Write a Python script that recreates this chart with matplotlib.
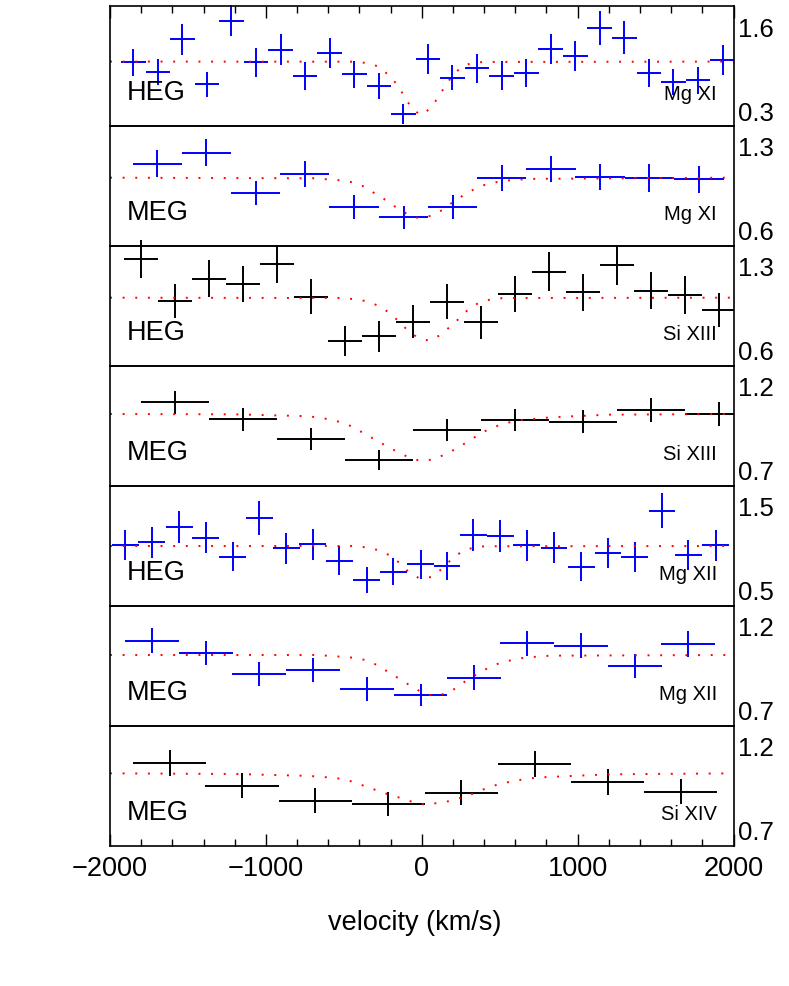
import matplotlib
matplotlib.use('Agg')
import matplotlib.pyplot as plt
from matplotlib.ticker import MultipleLocator
from matplotlib.patches import Rectangle

plt.rcParams['font.family'] = ['Liberation Sans', 'DejaVu Sans']

# ---- panel 1: HEG Mg XI
p1_v = [-1851, -1693, -1536, -1378, -1221, -1063, -906, -748, -590, -433, -275, -118, 40,
        197, 355, 512, 670, 827, 985, 1142, 1300, 1457, 1615, 1772, 1930]
p1_f = [1.064, 0.914, 1.418, 0.721, 1.709, 1.064, 1.262, 0.851, 1.210, 0.877, 0.695, 0.253, 1.116,
        0.825, 0.971, 0.856, 0.903, 1.272, 1.168, 1.595, 1.444, 0.903, 0.758, 0.784, 1.106]
p1_e = [0.213, 0.198, 0.239, 0.192, 0.244, 0.224, 0.239, 0.213, 0.239, 0.213, 0.208, 0.156, 0.234,
        0.198, 0.224, 0.224, 0.218, 0.239, 0.234, 0.265, 0.255, 0.218, 0.203, 0.208, 0.234]
p1_mv = [-2000, -450, -362, -283, -219, -163, -118, -77, -20, 5, 46, 98, 143, 192, 250, 314, 395, 2000]
p1_mf = [1.074, 1.072, 1.054, 1.002, 0.878, 0.731, 0.560, 0.394, 0.258, 0.245, 0.331, 0.487, 0.664,
         0.840, 0.981, 1.049, 1.068, 1.074]

# ---- panel 2: MEG Mg XI
p2_v = [-1696, -1381, -1065, -750, -435, -117, 199, 514, 829, 1144, 1460, 1778]
p2_f = [1.157, 1.250, 0.914, 1.073, 0.796, 0.707, 0.793, 1.035, 1.113, 1.045, 1.037, 1.026]
p2_e = [0.115, 0.115, 0.101, 0.111, 0.102, 0.095, 0.098, 0.109, 0.113, 0.112, 0.119, 0.112]
p2_mv = [-2000, -781, -685, -606, -524, -443, -368, -298, -229, -161, -93, -16, 59, 132, 198, 267,
         335, 412, 493, 575, 656, 737, 823, 2000]
p2_mf = [1.04, 1.035, 1.035, 1.026, 1.018, 1.001, 0.964, 0.905, 0.850, 0.787, 0.734, 0.698, 0.720,
         0.768, 0.833, 0.892, 0.942, 0.984, 1.006, 1.020, 1.026, 1.031, 1.031, 1.04]

# ---- panel 3: HEG Si XIII
p3_v = [-1803, -1583, -1367, -1147, -930, -711, -494, -274, -58, 162, 379, 598, 815, 1035, 1251,
        1471, 1688, 1907]
p3_f = [1.362, 1.012, 1.199, 1.157, 1.325, 1.048, 0.679, 0.715, 0.838, 1.006, 0.833, 1.071, 1.258,
        1.085, 1.312, 1.099, 1.062, 0.936]
p3_e = [0.160, 0.146, 0.154, 0.151, 0.160, 0.146, 0.126, 0.132, 0.137, 0.148, 0.140, 0.151, 0.162,
        0.154, 0.168, 0.157, 0.157, 0.146]
p3_mv = [-2000, -524, -443, -362, -285, -215, -152, -97, -32, 46, 117, 179, 241, 299, 367, 444, 525, 2000]
p3_mf = [1.04, 1.037, 1.029, 1.012, 0.976, 0.920, 0.847, 0.774, 0.709, 0.678, 0.724, 0.793, 0.866,
         0.942, 0.998, 1.026, 1.037, 1.04]

# ---- panel 4: MEG Si XIII
p4_v = [-1583, -1147, -711, -274, 162, 598, 1035, 1471, 1907]
p4_f = [1.106, 1.004, 0.886, 0.760, 0.940, 1.000, 0.990, 1.060, 1.036]
p4_e = [0.070, 0.068, 0.066, 0.062, 0.066, 0.068, 0.068, 0.072, 0.070]
p4_mv = [-2000, -1200, -781, -685, -606, -524, -450, -379, -306, -234, -163, -93, -16, 68, 141, 213,
         284, 352, 423, 500, 579, 660, 741, 823, 1200, 2000]
p4_mf = [1.036, 1.034, 1.024, 1.018, 1.006, 0.988, 0.962, 0.924, 0.886, 0.848, 0.812, 0.780, 0.756,
         0.762, 0.790, 0.824, 0.864, 0.904, 0.942, 0.970, 0.990, 1.002, 1.008, 1.016, 1.032, 1.036]

# ---- panel 5: HEG Mg XII
p5_v = [-1901, -1733, -1555, -1386, -1212, -1043, -868, -699, -528, -353, -182, -7, 162, 331, 505,
        674, 849, 1023, 1195, 1367, 1541, 1710, 1885]
p5_f = [1.040, 1.072, 1.260, 1.128, 0.900, 1.360, 1.000, 1.048, 0.852, 0.620, 0.720, 0.808, 0.788,
        1.160, 1.152, 1.036, 1.008, 0.780, 0.948, 0.900, 1.452, 0.920, 1.036]
p5_e = [0.184, 0.188, 0.192, 0.188, 0.176, 0.204, 0.184, 0.188, 0.172, 0.156, 0.164, 0.172, 0.172,
        0.188, 0.192, 0.188, 0.184, 0.172, 0.180, 0.180, 0.212, 0.180, 0.184]
p5_mv = [-2000, -443, -362, -283, -210, -144, -86, -16, 64, 128, 186, 250, 327, 406, 2000]
p5_mf = [1.028, 1.028, 1.013, 0.980, 0.920, 0.828, 0.720, 0.640, 0.656, 0.752, 0.860, 0.952, 1.008,
         1.025, 1.028]

# ---- panel 6: MEG Mg XII
p6_v = [-1730, -1386, -1043, -697, -353, -7, 337, 674, 1023, 1367, 1710]
p6_f = [1.116, 1.044, 0.916, 0.940, 0.826, 0.790, 0.894, 1.100, 1.086, 0.964, 1.096]
p6_e = [0.074, 0.072, 0.070, 0.074, 0.070, 0.068, 0.074, 0.076, 0.076, 0.072, 0.076]
p6_mv = [-2000, -781, -685, -606, -524, -443, -362, -287, -219, -148, -80, -7, 68, 145, 215, 284,
         356, 425, 500, 579, 660, 741, 823, 2000]
p6_mf = [1.030, 1.030, 1.030, 1.026, 1.020, 1.014, 1.000, 0.970, 0.930, 0.890, 0.850, 0.810, 0.786,
         0.796, 0.828, 0.876, 0.916, 0.952, 0.982, 1.000, 1.014, 1.020, 1.026, 1.030]

# ---- panel 7: MEG Si XIV
p7_v = [-1617, -1153, -683, -215, 255, 725, 1192, 1662]
p7_f = [1.104, 0.966, 0.876, 0.856, 0.924, 1.096, 0.988, 0.930]
p7_e = [0.078, 0.074, 0.074, 0.072, 0.074, 0.078, 0.076, 0.074]
p7_mv = [-2000, -1200, -781, -685, -606, -524, -443, -368, -289, -215, -135, -58, 21, 102, 181, 260,
         335, 412, 491, 570, 651, 733, 812, 1200, 2000]
p7_mf = [1.04, 1.036, 1.026, 1.022, 1.016, 1.008, 0.990, 0.964, 0.938, 0.914, 0.892, 0.868, 0.852,
         0.862, 0.874, 0.896, 0.920, 0.950, 0.974, 0.990, 1.004, 1.014, 1.018, 1.034, 1.04]

grating = ['HEG', 'MEG', 'HEG', 'MEG', 'HEG', 'MEG', 'MEG']
ion = ['Mg XI', 'Mg XI', 'Si XIII', 'Si XIII', 'Mg XII', 'Mg XII', 'Si XIV']
colors = ['blue', 'blue', 'black', 'black', 'blue', 'blue', 'black']
half_bin = [79, 158, 109, 219, 86, 172, 235]
ylims = [(0.07, 1.94), (0.466, 1.474), (0.466, 1.474), (0.604, 1.324),
         (0.308, 1.748), (0.604, 1.324), (0.604, 1.324)]
ylabels = [('1.6', '0.3'), ('1.3', '0.6'), ('1.3', '0.6'), ('1.2', '0.7'),
           ('1.5', '0.5'), ('1.2', '0.7'), ('1.2', '0.7')]
data = [(p1_v, p1_f, p1_e, p1_mv, p1_mf), (p2_v, p2_f, p2_e, p2_mv, p2_mf),
        (p3_v, p3_f, p3_e, p3_mv, p3_mf), (p4_v, p4_f, p4_e, p4_mv, p4_mf),
        (p5_v, p5_f, p5_e, p5_mv, p5_mf), (p6_v, p6_f, p6_e, p6_mv, p6_mf),
        (p7_v, p7_f, p7_e, p7_mv, p7_mf)]

W, H = 789, 986
fig = plt.figure(figsize=(W / 100, H / 100), dpi=100)
left, right = 110 / W, 733.5 / W
ph = 120 / H

for i in range(7):
    v, f, e, mv, mf = data[i]
    ax = fig.add_axes([left, 1 - (6 + 120 * (i + 1)) / H, right - left, ph])
    ax.patch.set_visible(False)

    eb = ax.errorbar(v, f, xerr=half_bin[i], yerr=e, fmt='none', ecolor=colors[i],
                     elinewidth=1.4, capsize=0)
    # vertical bars may poke out of the panel a little, as in the original
    clip = Rectangle((0, -0.3), 1, 1.6, transform=ax.transAxes)
    for bars in eb.lines[2]:
        bars.set_clip_path(clip)
    ax.plot(mv, mf, color='red', lw=1.4, linestyle=(0, (1, 5.5)))

    ax.set_xlim(-2000, 2000)
    ax.set_ylim(*ylims[i])
    ax.yaxis.tick_right()
    ax.set_yticks([float(ylabels[i][0]), float(ylabels[i][1])])
    ax.set_yticklabels(list(ylabels[i]))
    ax.tick_params(axis='y', length=0, pad=3.5, labelsize=18.5)

    ax.xaxis.set_major_locator(MultipleLocator(1000))
    ax.xaxis.set_minor_locator(MultipleLocator(200))
    ax.tick_params(axis='x', which='both', direction='in', width=1,
                   top=(i == 0), bottom=(i == 6), labelbottom=(i == 6),
                   labelsize=19.5, pad=7)
    ax.tick_params(axis='x', which='major', length=8.6)
    ax.tick_params(axis='x', which='minor', length=5)
    for s in ax.spines.values():
        s.set_linewidth(1.2)

    ax.text(0.027, 0.22, grating[i], transform=ax.transAxes, fontsize=19.5,
            ha='left', va='baseline')
    ax.text(0.9735, 0.22, ion[i], transform=ax.transAxes, fontsize=14.5,
            ha='right', va='baseline')

fig.text(0.526, 1 - 923 / H, 'velocity (km/s)', fontsize=19.5, ha='center', va='center')

fig.savefig('out.png', dpi=100)
